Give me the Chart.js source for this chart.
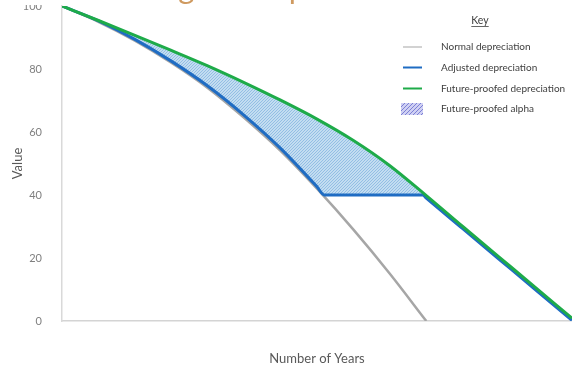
<!DOCTYPE html>
<html>
<head>
<meta charset="utf-8">
<script src="https://cdn.jsdelivr.net/npm/chart.js@4.4.1/dist/chart.umd.min.js"></script>
<style>
  html, body { margin: 0; padding: 0; background: #ffffff; }
  #wrap { width: 572px; height: 368px; position: relative; overflow: hidden; }
</style>
</head>
<body>
<div id="wrap"><canvas id="chart" width="572" height="368"></canvas></div>
<script>
// ---- chart text ----
const chartTitle = 'Extending the depreciation';
const keyTitle = 'Key';
const seriesNames = ['Normal depreciation', 'Adjusted depreciation', 'Future-proofed depreciation', 'Future-proofed alpha'];
const xAxisTitle = 'Number of Years';
const yAxisTitle = 'Value';

// ---- y axis ticks ----
const yTickValues = [0, 20, 40, 60, 80, 100];

// ---- normal depreciation ----
const normalYears  = [0, 1, 2, 3, 4, 5, 6, 7, 8, 9, 10];
const normalValues = [100, 95, 89, 82, 74, 64.5, 54, 42, 29, 15, 0];

// ---- adjusted depreciation (holds at 40 before falling again) ----
const adjustedYears  = [0, 1, 2, 3, 4, 5, 6, 7, 7.2, 9.9, 10, 11, 12, 13, 14];
const adjustedValues = [100, 95.3, 89.4, 82.5, 74.6, 65.3, 54.8, 42.6, 40, 40, 39.0, 29.3, 19.6, 9.9, 0.2];

// ---- future-proofed depreciation ----
const futureYears  = [0, 1, 2, 3, 4, 5, 6, 7, 8, 9, 10, 11, 12, 13, 14];
const futureValues = [100, 95.4, 90.7, 85.9, 81, 75.7, 70.1, 64.1, 57.3, 49.3, 39.8, 30, 20.3, 10.6, 0.9];

const toPoints = (xs, ys) => xs.map((x, i) => ({ x: x, y: ys[i] }));

// diagonal hatch used for the alpha area
function makeHatch(bg, line, size) {
  const c = document.createElement('canvas');
  c.width = size; c.height = size;
  const g = c.getContext('2d');
  g.fillStyle = bg;
  g.fillRect(0, 0, size, size);
  g.strokeStyle = line;
  g.lineWidth = 1;
  g.beginPath();
  g.moveTo(0, size); g.lineTo(size, 0);
  g.moveTo(-1, 1); g.lineTo(1, -1);
  g.moveTo(size - 1, size + 1); g.lineTo(size + 1, size - 1);
  g.stroke();
  return g.createPattern(c, 'repeat');
}

const ctx = document.getElementById('chart').getContext('2d');
const alphaHatch = makeHatch('#c3ddf1', '#93bee4', 3);
const keyHatch = makeHatch('#cfd0f3', '#7c80d6', 4);

const colors = {
  normal: '#a6a6a6',
  adjusted: '#1f6cc3',
  future: '#1eab49'
};

// title box across the top edge
const titlePlugin = {
  id: 'slideTitle',
  afterDraw(chart) {
    const c = chart.ctx;
    c.save();
    c.fillStyle = '#ffffff';
    c.fillRect(0, 0, chart.width, 5);
    c.fillStyle = '#cf9a60';
    c.font = '31px Lato';
    c.textAlign = 'left';
    c.textBaseline = 'alphabetic';
    c.fillText(chartTitle, 58, -1);
    c.restore();
  }
};

// key box in the upper right
const keyPlugin = {
  id: 'keyBox',
  afterDraw(chart) {
    const c = chart.ctx;
    c.save();
    c.fillStyle = '#404040';
    c.font = '10.5px Lato';
    c.textAlign = 'center';
    c.textBaseline = 'middle';
    c.fillText(keyTitle, 480, 21);
    const w = c.measureText(keyTitle).width;
    c.strokeStyle = '#404040';
    c.lineWidth = 0.8;
    c.beginPath();
    c.moveTo(480 - w / 2, 26.5);
    c.lineTo(480 + w / 2, 26.5);
    c.stroke();

    const rows = [
      { y: 47, kind: 'line', color: '#c3c3c3', width: 1.5 },
      { y: 67.5, kind: 'line', color: colors.adjusted, width: 2 },
      { y: 88.5, kind: 'line', color: colors.future, width: 2 },
      { y: 109, kind: 'box' }
    ];
    c.font = '10px Lato';
    c.textAlign = 'left';
    rows.forEach((r, i) => {
      if (r.kind === 'line') {
        c.strokeStyle = r.color;
        c.lineWidth = r.width;
        c.beginPath();
        c.moveTo(403, r.y);
        c.lineTo(422, r.y);
        c.stroke();
      } else {
        c.fillStyle = keyHatch;
        c.fillRect(401, r.y - 6, 22, 12);
      }
      c.fillStyle = '#404040';
      c.fillText(seriesNames[i], 441, r.y);
    });
    c.restore();
  }
};

new Chart(ctx, {
  type: 'line',
  data: {
    datasets: [
      {
        label: seriesNames[0],
        data: toPoints(normalYears, normalValues),
        borderColor: colors.normal,
        borderWidth: 2.5,
        pointRadius: 0,
        cubicInterpolationMode: 'monotone',
        fill: false,
        order: 2
      },
      {
        label: seriesNames[1],
        data: toPoints(adjustedYears, adjustedValues),
        borderColor: colors.adjusted,
        borderWidth: 3,
        pointRadius: 0,
        cubicInterpolationMode: 'monotone',
        fill: false,
        order: 1
      },
      {
        label: seriesNames[2],
        data: toPoints(futureYears, futureValues),
        borderColor: colors.future,
        borderWidth: 3,
        pointRadius: 0,
        cubicInterpolationMode: 'monotone',
        fill: { target: 1, above: alphaHatch, below: alphaHatch },
        order: 0
      }
    ]
  },
  options: {
    responsive: false,
    animation: false,
    devicePixelRatio: 1,
    layout: { padding: { top: 6, left: 0, right: 0, bottom: 0 } },
    plugins: {
      legend: { display: false },
      tooltip: { enabled: false },
      filler: { drawTime: 'beforeDatasetsDraw' }
    },
    scales: {
      x: {
        type: 'linear',
        min: 0,
        max: 14,
        grid: { display: false },
        border: { display: true, color: '#d4d4d4', width: 1.5 },
        ticks: { display: false },
        title: {
          display: true,
          text: xAxisTitle,
          color: '#595959',
          font: { family: 'Lato', size: 13 },
          padding: { top: 0, bottom: 1 }
        },
        afterFit(scale) {
          scale.height = 47;
          scale.paddingLeft = 0;
          scale.paddingRight = 0;
        }
      },
      y: {
        min: 0,
        max: 100,
        grid: { display: false },
        border: { display: true, color: '#d9d9d9', width: 1.5 },
        afterBuildTicks(scale) {
          scale.ticks = yTickValues.map(v => ({ value: v }));
        },
        ticks: {
          color: '#7f7f7f',
          font: { family: 'Lato', size: 11 },
          padding: 12
        },
        title: {
          display: true,
          text: yAxisTitle,
          color: '#595959',
          font: { family: 'Lato', size: 13 },
          padding: { top: 10, bottom: 0 }
        },
        afterFit(scale) {
          scale.width = 62;
          scale.paddingTop = 0;
          scale.paddingBottom = 0;
        }
      }
    }
  },
  plugins: [titlePlugin, keyPlugin]
});
</script>
</body>
</html>
